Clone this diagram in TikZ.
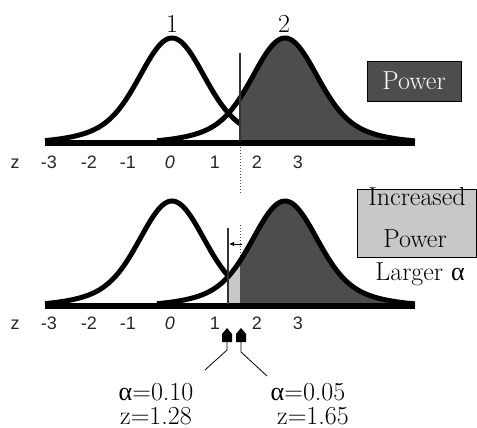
\documentclass[tikz,border=0pt]{standalone}
\usepackage{fontspec}
\newfontfamily\ticksf{Liberation Sans}
\newfontfamily\grk{Liberation Serif}
\usetikzlibrary{arrows.meta}
\definecolor{darkfill}{HTML}{4D4D4D}
\definecolor{lightfill}{HTML}{C8C8C8}
\begin{document}
\begin{tikzpicture}[x=1pt,y=-1pt,
  declare function={g(\x,\c)=105*(0.75*exp(-0.5*((\x-\c)/30)^2)+0.25*exp(-0.5*((\x-\c)/58)^2));},
  curve/.style={line width=5pt, line join=round},
  axisline/.style={line width=5.5pt},
  cutline/.style={line width=1.1pt, black!80},
  dotline/.style={line width=1pt, dotted, black!70},
  tick/.style={font=\ticksf\fontsize{18}{18}\selectfont, text=black!85, anchor=base, inner sep=0pt},
  big/.style={font=\fontsize{26}{26}\selectfont, inner sep=0pt},
  conn/.style={line width=0.8pt},
  house/.style={fill=black},
]
\useasboundingbox (0,0) rectangle (477,428);

% ---------- top panel ----------
\fill[darkfill] (240,143) -- plot[domain=240:415,samples=60,smooth] (\x,{143-g(\x,285)}) -- (415,143) -- cycle;
\draw[curve] plot[domain=45:240,samples=80,smooth] (\x,{143-g(\x,172)});
\draw[curve] plot[domain=157:415,samples=100,smooth] (\x,{143-g(\x,285)});
\coordinate (t1L) at (45,143);
\coordinate (t1R) at (415,143);
\draw[axisline] (t1L) -- (t1R);
\coordinate (c1t) at (240,53);
\coordinate (c1b) at (240,141);
\draw[cutline] (c1t) -- (c1b);
\coordinate (d1t) at (240,147);
\coordinate (d1b) at (240,195);
\draw[dotline] (d1t) -- (d1b);

\node[big, anchor=base] (lab1) at (172,33) {1};
\node[big, anchor=base] (lab2) at (284,33) {2};

\foreach \t/\xx/\nm in {z/15/z,-3/49/m3,-2/89/m2,-1/128/m1,{\itshape 0}/170/p0,1/215/p1,2/257/p2,3/298/p3}
  \node[tick] (tt\nm) at (\xx,168) {\t};

\node[draw=black, line width=0.8pt, fill=darkfill, text=white, minimum width=94pt, minimum height=40pt, big] (power) at (414,81) {Power};

% ---------- bottom panel ----------
\fill[lightfill] (228,306) -- plot[domain=228:240,samples=10,smooth] (\x,{306-g(\x,285)}) -- (240,306) -- cycle;
\fill[darkfill] (240,306) -- plot[domain=240:415,samples=60,smooth] (\x,{306-g(\x,285)}) -- (415,306) -- cycle;
\coordinate (d2t) at (240,225);
\coordinate (d2b) at (240,304);
\draw[dotline] (d2t) -- (d2b);
\draw[curve] plot[domain=45:228,samples=80,smooth] (\x,{306-g(\x,172)});
\draw[curve] plot[domain=157:415,samples=100,smooth] (\x,{306-g(\x,285)});
\coordinate (t2L) at (45,306);
\coordinate (t2R) at (415,306);
\draw[axisline] (t2L) -- (t2R);
\coordinate (c2t) at (228,228);
\coordinate (c2b) at (228,304);
\draw[cutline] (c2t) -- (c2b);
\coordinate (ar1) at (242,244);
\coordinate (ar2) at (229,244);
\draw[conn, -{Latex[length=5pt,width=4.5pt]}] (ar1) -- (ar2);

\foreach \t/\xx/\nm in {z/15/z,-3/49/m3,-2/89/m2,-1/128/m1,{\itshape 0}/170/p0,1/215/p1,2/257/p2,3/298/p3}
  \node[tick] (tb\nm) at (\xx,329) {\t};

\node[draw=black, line width=0.8pt, fill=lightfill, minimum width=119pt, minimum height=68pt, inner sep=0pt] (incbox) at (416.5,223) {};
\node[big, anchor=base] (inc1) at (417,205) {Increased};
\node[big, anchor=base] (inc2) at (415,247) {Power};
\node[big, anchor=base] (larger) at (420,280) {Larger {\grk α}};

% pointers
\coordinate (h1) at (227,342);
\coordinate (h2) at (241,342);
\fill[house] (h1) ++(-5,0) -- ++(10,0) -- ++(0,-8) -- ++(-5,-6) -- ++(-5,6) -- cycle;
\fill[house] (h2) ++(-5,0) -- ++(10,0) -- ++(0,-8) -- ++(-5,-6) -- ++(-5,6) -- cycle;
\coordinate (k1) at (227,350);
\coordinate (e1) at (205,370);
\coordinate (k2) at (241,352);
\coordinate (e2) at (267,376);
\draw[conn] (h1) -- (k1) -- (e1);
\draw[conn] (h2) -- (k2) -- (e2);

\node[big, anchor=base] (a1) at (156,400) {{\grk α}=0.10};
\node[big, anchor=base] (z1) at (156,424) {z=1.28};
\node[big, anchor=base] (a2) at (308,400) {{\grk α}=0.05};
\node[big, anchor=base] (z2) at (313,424) {z=1.65};
\end{tikzpicture}
\end{document}
